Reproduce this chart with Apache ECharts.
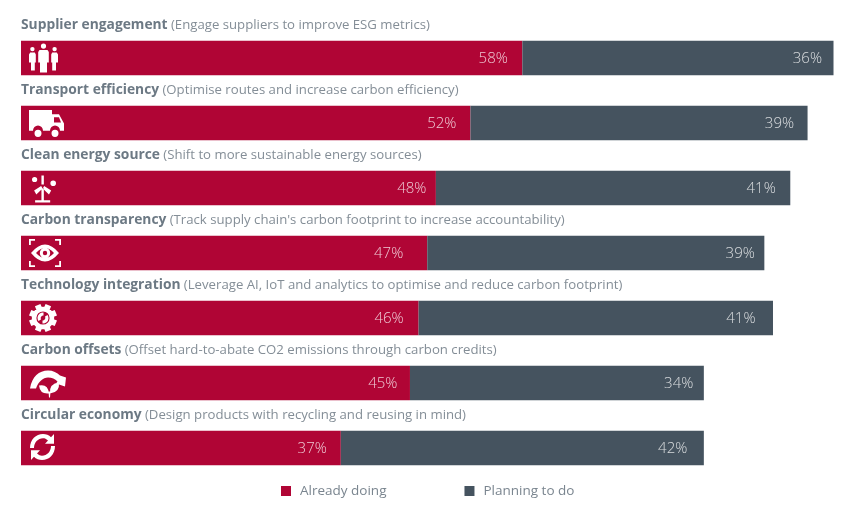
<!DOCTYPE html>
<html><head><meta charset="utf-8">
<style>html,body{margin:0;padding:0;background:#fff}#c{width:854px;height:515px}</style>
<script src="https://cdn.jsdelivr.net/npm/echarts@6/dist/echarts.min.js"></script>
</head><body><div id="c"></div>
<script>
const categories = ['Supplier engagement','Transport efficiency','Clean energy source','Carbon transparency','Technology integration','Carbon offsets','Circular economy'];
const descriptions = ['(Engage suppliers to improve ESG metrics)','(Optimise routes and increase carbon efficiency)','(Shift to more sustainable energy sources)',"(Track supply chain's carbon footprint to increase accountability)",'(Leverage AI, IoT and analytics to optimise and reduce carbon footprint)','(Offset hard-to-abate CO2 emissions through carbon credits)','(Design products with recycling and reusing in mind)'];
const alreadyDoing = [58,52,48,47,46,45,37];
const planningToDo = [36,39,41,39,41,34,42];
const alreadyInsets = [14.5,14,9.5,24,15,12.5,14];
const planningInsets = [11.5,13.5,14.5,9.5,17.5,10.5,16.5];

const RED = '#b00535', SLATE = '#45535f';
const cw = (x,y,r)=>`M${x-r} ${y}A${r} ${r} 0 1 1 ${x+r} ${y}A${r} ${r} 0 1 1 ${x-r} ${y}Z`;
const ccw = (x,y,r)=>`M${x-r} ${y}A${r} ${r} 0 1 0 ${x+r} ${y}A${r} ${r} 0 1 0 ${x-r} ${y}Z`;
function gearTeeth(cx,cy,r0,r1,n){let s='';for(let i=0;i<n;i++){const a=(i+0.5)*2*Math.PI/n,d=0.3;
  const p=(rad,an)=>`${(cx+rad*Math.cos(an)).toFixed(2)} ${(cy+rad*Math.sin(an)).toFixed(2)}`;
  s+=`M${p(r0,a-d)}L${p(r1,a-d*.7)}L${p(r1,a+d*.7)}L${p(r0,a+d)}Z`;}return s;}

const iconPeople = 'path://'+cw(14.5,2.6,2.6)+cw(3.4,5.6,2.2)+cw(25.6,5.6,2.2)
 +'M10.5 6.5H18.5L19.8 8.5V19H18V29H11V19H9.2V8.5Z'
 +'M1.2 9H5.8L6.8 11V19H5.8V27H2V19H0V11Z'
 +'M23.2 9H27.8L29 11V19H27V27H23.2V19H22.2V11Z';
const iconTruck = 'path://M0 0H23V4H30L35 13V20H31A5 5 0 0 0 21 20H14A5 5 0 0 0 4 20H0Z'
 +'M25 7V12H32L30 7Z'+cw(9,22.5,3.5)+cw(26,22.5,3.5);
const iconWind = 'path://'+cw(2.5,4,2.6)+cw(21,7.7,2.8)
 +'M9.3 0H11.7V9H9.3Z'+'M9.3 13H11.7V25H9.3Z'+'M3 24.8H18V27H3Z'
 +'M2 15L9 10.5L10.4 13L4.2 19Z'+'M19 15L12 10.5L10.6 13L16.8 19Z';
const iconEye = 'path://M0 0H6V1.8H1.8V6H0Z'+'M26 0H32V6H30.2V1.8H26Z'+'M0 22H1.8V26.2H6V28H0Z'+'M30.2 22H32V28H26V26.2H30.2Z'
 +'M2 14Q16 -3 30 14Q16 31 2 14Z'+'M7 14Q16 24 25 14Q16 4 7 14Z'+cw(16,14,5.2)+ccw(16,14,2.2);
const iconGear = 'path://'+cw(14,14,11)+ccw(14,14,6.5)+gearTeeth(14,14,10,14,8)
 +'M14.5 8.5A5.5 5.5 0 0 0 9.5 17L12 15.5A3 3 0 0 1 14.5 11.5Z'
 +'M13.5 19.5A5.5 5.5 0 0 0 18.5 11L16 12.5A3 3 0 0 1 13.5 16.5Z';
const iconOffset = 'path://M0 18C2 6 9 0 18 0C23 0 27 2 30 5L36 7L35 16L26 13L27.5 11C25 8.5 22 7 18 7C13 7 8.5 11 6 18Z'
 +'M9 15Q18 13 19 23Q10 24 9 15Z'+'M29 12Q30 22 20 23Q19 13 29 12Z'+'M18.5 21H20.5L20 27H19Z';
const iconCycle = 'path://M0 14C0 6 6 1 13 1C16 1 19 2 21 4L24 1V10H15L18 7C16 5.5 15 5 13 5C8 5 4 9 4 14Z'
 +'M25 12C25 20 19 25 12 25C9 25 6 24 4 22L1 25V16H10L7 19C9 20.5 10 21 12 21C17 21 21 17 21 12Z';

const icons = [iconPeople,iconTruck,iconWind,iconEye,iconGear,iconOffset,iconCycle];
const iconSizes = [[29,29],[35,27],[24,27],[32,28],[28,28],[36,27],[25,26]];
const iconOffsets = [[22.5,0],[25.5,0.5],[23,1],[24,0],[22,0],[27,1],[21.5,-1]];

const FONT = '"Open Sans"';
const barLabel = {show:true,position:'insideRight',offset:[0,1],formatter:'{c}%',color:'rgba(255,255,255,0.78)',fontFamily:FONT,fontSize:15,fontWeight:300};
const withInsets = (vals,insets)=>vals.map((v,i)=>({value:v,label:{distance:insets[i]}}));

const chart = echarts.init(document.getElementById('c'),null,{renderer:'canvas'});
chart.setOption({
  animation:false,
  backgroundColor:'#fff',
  grid:{left:21,top:25.5,width:812.5,height:455,containLabel:false},
  xAxis:{type:'value',min:0,max:94,show:false},
  yAxis:{type:'category',inverse:true,data:categories,
    axisLine:{show:false},axisTick:{show:false},splitLine:{show:false},
    axisLabel:{inside:true,margin:0,interval:0,align:'left',verticalAlign:'middle',padding:[0,0,66,0],
      formatter:(v,i)=>`{b|${v}} {r|${descriptions[i]}}`,
      rich:{b:{fontFamily:FONT,fontWeight:700,fontSize:13.8,color:'#6c7984'},
            r:{fontFamily:FONT,fontSize:13.2,color:'#848e97'}}}},
  legend:{left:281,top:484,padding:0,itemWidth:10,itemHeight:10,itemGap:78,icon:'rect',
    data:['Already doing','Planning to do'],
    textStyle:{fontFamily:FONT,fontSize:13.5,color:'#7a858f',padding:[0,0,0,4]}},
  series:[
    {name:'Already doing',type:'bar',stack:'a',barWidth:34.5,data:withInsets(alreadyDoing,alreadyInsets),itemStyle:{color:RED},label:barLabel},
    {name:'Planning to do',type:'bar',stack:'a',barWidth:34.5,data:withInsets(planningToDo,planningInsets),itemStyle:{color:SLATE},label:barLabel},
    {name:'icons',type:'scatter',z:5,silent:true,clip:false,
      symbolKeepAspect:false,itemStyle:{color:'#fff',opacity:1},
      data:categories.map((c,i)=>({value:[0,c],symbol:icons[i],symbolSize:iconSizes[i],symbolOffset:iconOffsets[i]}))}
  ]
});
</script></body></html>
